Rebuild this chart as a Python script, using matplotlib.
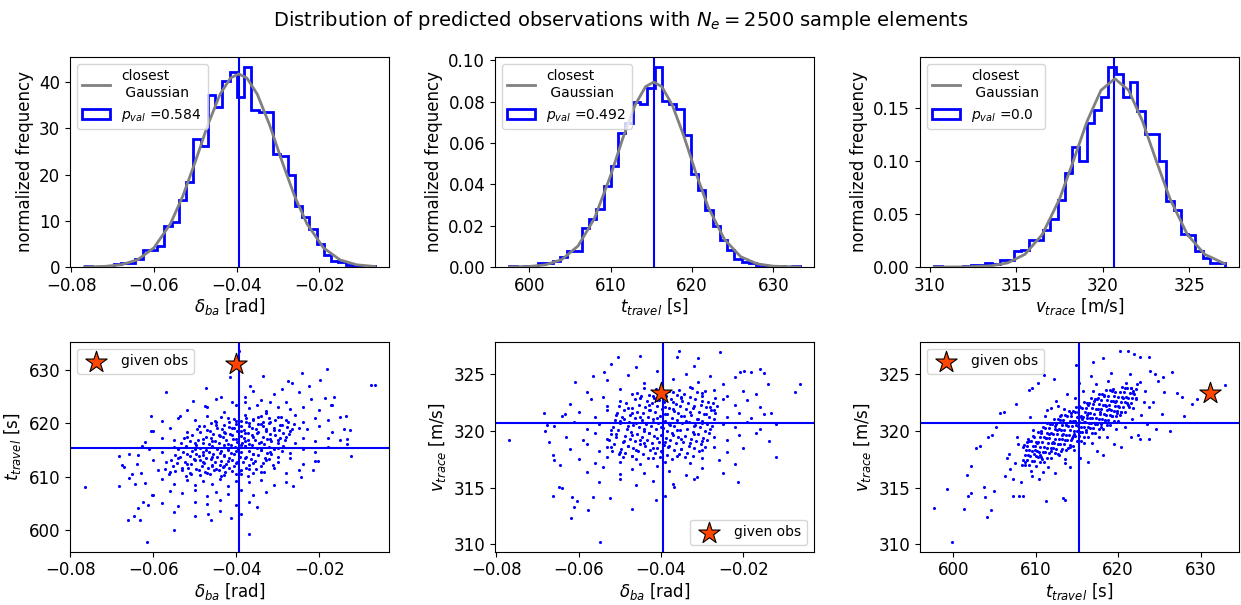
import matplotlib
matplotlib.use('Agg')
import matplotlib.pyplot as plt
import numpy as np

plt.rcParams['font.size'] = 12

title = 'Distribution of predicted observations with $N_e=2500$ sample elements'

# histogram ranges (first / last bin edge) and normalized bin heights, 40 bins each
delta_range = (-0.0768, -0.0066)
delta_hist = [0.23, 0, 0, 0.23, 0.68, 0.91, 0.91, 1.82, 3.64, 3.64,
              4.55, 8.88, 9.79, 14.6, 18.4, 27.8, 26.2, 37.3, 34.6, 40.3,
              42.3, 36.9, 43.3, 33.9, 33.5, 33.5, 24.4, 24.1, 20.0, 13.2,
              10.9, 8.2, 5.0, 2.5, 1.4, 1.1, 0.46, 0.23, 0, 0.23]

t_range = (597.55, 633.25)
t_hist = [0.00045, 0, 0.00045, 0, 0.0019, 0.0019, 0.0027, 0.0048, 0.0079, 0.0079,
          0.0187, 0.0230, 0.0280, 0.0390, 0.0487, 0.0647, 0.0696, 0.0797, 0.0790, 0.0864,
          0.0968, 0.0804, 0.0790, 0.0764, 0.0639, 0.0452, 0.0372, 0.0276, 0.0199, 0.0131,
          0.0080, 0.0040, 0.0022, 0.0019, 0.0008, 0.0007, 0.0004, 0.0004, 0, 0.00045]

v_range = (310.25, 327.05)
v_hist = [0.00095, 0, 0, 0, 0.00095, 0.0019, 0.0019, 0.0038, 0.0028, 0.0069,
          0.0069, 0.0148, 0.0157, 0.0257, 0.0257, 0.0350, 0.0450, 0.0636, 0.0890, 0.1130,
          0.1005, 0.1360, 0.1480, 0.1610, 0.1890, 0.1825, 0.1610, 0.1750, 0.1470, 0.1255,
          0.1255, 0.1000, 0.0620, 0.0540, 0.0310, 0.0300, 0.0150, 0.0085, 0.0040, 0.0040]

# closest gaussian curves
delta_gx = [-0.0768, -0.072, -0.068, -0.064, -0.060, -0.056, -0.053, -0.050, -0.047, -0.044, -0.0415,
            -0.0395, -0.0375, -0.035, -0.032, -0.029, -0.026, -0.023, -0.019, -0.015, -0.011, -0.0066]
delta_gy = [0.02, 0.13, 0.48, 1.54, 4.16, 9.37, 15.4, 22.8, 30.7, 37.4, 40.9,
            41.8, 40.9, 37.4, 30.7, 22.8, 15.4, 9.37, 4.16, 1.54, 0.48, 0.11]

t_gx = [597.55, 600, 602, 604, 606, 608, 610, 611.5, 613, 614.3, 615.3,
        616.3, 617.6, 619, 620.5, 622, 624, 626, 628, 630, 633.25]
t_gy = [0.00003, 0.00025, 0.00105, 0.00361, 0.0102, 0.0234, 0.0442, 0.0623, 0.0783, 0.0873, 0.0895,
        0.0873, 0.0783, 0.0635, 0.0454, 0.0290, 0.0134, 0.0050, 0.00155, 0.00039, 0.00003]

v_gx = [310.25, 312, 313.5, 314.5, 315.5, 316.5, 317.5, 318.3, 319.1, 319.9, 320.7,
        321.5, 322.3, 323.1, 323.9, 324.9, 325.9, 327.05]
v_gy = [0.0, 0.0001, 0.0010, 0.0039, 0.0120, 0.0307, 0.0642, 0.1003, 0.1379, 0.1670, 0.178,
        0.1670, 0.1379, 0.1003, 0.0642, 0.0307, 0.0120, 0.0032]

p_vals = ['0.584', '0.492', '0.0']

# sample means (blue lines) and the given observation (star)
delta_mean = -0.0395
t_mean = 615.3
v_mean = 320.68
obs_delta = -0.0400
obs_t = 631.2
obs_v = 323.35

# scatter samples (outer points + dense core)
delta_t_pts = [
    (-0.0766, 608.0), (-0.0682, 613.9), (-0.0676, 612.1), (-0.0672, 611.8), (-0.0682, 608.3),
    (-0.0662, 601.8), (-0.0646, 602.7), (-0.0638, 604.1), (-0.0632, 601.8), (-0.0615, 597.7),
    (-0.0607, 621.3), (-0.0607, 618.5), (-0.0636, 614.1), (-0.0628, 615.7), (-0.0660, 609.7),
    (-0.0652, 610.5), (-0.0644, 608.7), (-0.0604, 606.5), (-0.0624, 605.3), (-0.0612, 604.7),
    (-0.0570, 625.9), (-0.0550, 599.9), (-0.0535, 621.4), (-0.0504, 624.2), (-0.0476, 623.3),
    (-0.0474, 626.7), (-0.0468, 602.9), (-0.0462, 601.8), (-0.0438, 624.9), (-0.0412, 602.3),
    (-0.0416, 628.6), (-0.0394, 633.5), (-0.0370, 599.2), (-0.0368, 626.9), (-0.0336, 628.8),
    (-0.0276, 627.9), (-0.0267, 627.5), (-0.0264, 608.3), (-0.0244, 610.0), (-0.0243, 629.5),
    (-0.0226, 626.9), (-0.0216, 611.3), (-0.0203, 613.0), (-0.0198, 628.2), (-0.0182, 630.1),
    (-0.0187, 624.8), (-0.0172, 623.5), (-0.0164, 624.9), (-0.0136, 621.3), (-0.0134, 617.1),
    (-0.0134, 616.2), (-0.0126, 618.7), (-0.0124, 613.8), (-0.0075, 627.2), (-0.0067, 627.2),
    (-0.045, 624.5), (-0.038, 625.0), (-0.034, 624.3), (-0.031, 625.5), (-0.028, 624.0),
    (-0.025, 625.8), (-0.036, 626.0), (-0.041, 624.0), (-0.029, 626.5), (-0.022, 624.6),
    (-0.052, 622.5), (-0.047, 623.0), (-0.043, 622.2), (-0.040, 623.4), (-0.037, 622.8),
    (-0.035, 623.5), (-0.033, 622.3), (-0.030, 623.1), (-0.027, 622.6), (-0.024, 623.0),
    (-0.020, 622.4), (-0.017, 623.4), (-0.038, 623.9), (-0.032, 624.0),
    (-0.058, 620.4), (-0.054, 621.0), (-0.050, 620.6), (-0.047, 621.4), (-0.045, 620.2),
    (-0.042, 621.0), (-0.040, 620.5), (-0.038, 621.6), (-0.036, 620.8), (-0.034, 621.3),
    (-0.032, 620.2), (-0.030, 621.1), (-0.028, 620.7), (-0.026, 621.5), (-0.024, 620.3),
    (-0.021, 621.0), (-0.018, 620.6), (-0.015, 621.2), (-0.037, 620.1), (-0.033, 621.9),
    (-0.060, 618.6), (-0.056, 619.2), (-0.052, 618.4), (-0.049, 619.5), (-0.047, 618.8),
    (-0.045, 619.7), (-0.043, 618.3), (-0.041, 619.1), (-0.039, 618.6), (-0.037, 619.4),
    (-0.035, 618.2), (-0.033, 619.0), (-0.031, 618.7), (-0.029, 619.6), (-0.027, 618.5),
    (-0.025, 619.2), (-0.023, 618.9), (-0.020, 619.5), (-0.017, 618.4), (-0.014, 619.0),
    (-0.038, 618.1), (-0.034, 619.8),
    (-0.062, 616.5), (-0.058, 617.2), (-0.055, 616.8), (-0.052, 617.5), (-0.050, 616.3),
    (-0.048, 617.0), (-0.046, 616.6), (-0.044, 617.6), (-0.042, 616.2), (-0.040, 617.1),
    (-0.038, 616.7), (-0.036, 617.4), (-0.034, 616.4), (-0.032, 617.0), (-0.030, 616.8),
    (-0.028, 617.5), (-0.026, 616.3), (-0.024, 617.2), (-0.021, 616.6), (-0.018, 617.3),
    (-0.015, 616.9), (-0.041, 617.8), (-0.037, 616.1),
    (-0.066, 614.3), (-0.061, 615.2), (-0.058, 614.6), (-0.055, 615.5), (-0.052, 614.3),
    (-0.050, 615.1), (-0.048, 614.7), (-0.046, 615.6), (-0.044, 614.4), (-0.042, 615.3),
    (-0.040, 614.8), (-0.038, 615.7), (-0.036, 614.2), (-0.034, 615.0), (-0.032, 614.6),
    (-0.030, 615.4), (-0.027, 614.5), (-0.024, 615.2), (-0.021, 614.7), (-0.018, 615.5),
    (-0.043, 614.1), (-0.039, 615.9),
    (-0.064, 612.4), (-0.060, 613.1), (-0.057, 612.7), (-0.054, 613.5), (-0.052, 612.3),
    (-0.050, 613.2), (-0.048, 612.8), (-0.046, 613.6), (-0.044, 612.2), (-0.042, 613.0),
    (-0.040, 612.6), (-0.038, 613.4), (-0.036, 612.5), (-0.033, 613.1), (-0.030, 612.7),
    (-0.027, 613.5), (-0.024, 612.4), (-0.021, 613.0), (-0.049, 613.9), (-0.043, 612.0),
    (-0.063, 610.6), (-0.059, 611.3), (-0.056, 610.8), (-0.053, 611.6), (-0.051, 610.4),
    (-0.049, 611.2), (-0.047, 610.7), (-0.045, 611.5), (-0.043, 610.3), (-0.041, 611.0),
    (-0.039, 610.5), (-0.037, 611.4), (-0.034, 610.9), (-0.031, 611.6), (-0.028, 610.6),
    (-0.025, 611.2), (-0.046, 611.9),
    (-0.062, 608.8), (-0.058, 609.5), (-0.055, 608.6), (-0.052, 609.3), (-0.050, 608.4),
    (-0.048, 609.1), (-0.046, 608.7), (-0.044, 609.6), (-0.042, 608.3), (-0.040, 609.2),
    (-0.037, 608.9), (-0.034, 609.4), (-0.031, 608.5), (-0.028, 609.0),
    (-0.060, 606.6), (-0.056, 607.3), (-0.053, 606.9), (-0.050, 607.5), (-0.047, 606.4),
    (-0.045, 607.1), (-0.042, 606.7), (-0.039, 607.4), (-0.036, 606.5), (-0.033, 607.2),
    (-0.058, 605.0), (-0.054, 604.4), (-0.050, 605.3), (-0.047, 604.8), (-0.044, 605.6),
    (-0.040, 604.6), (-0.037, 605.2), (-0.035, 604.3),
    (-0.055, 603.3), (-0.050, 602.7), (-0.044, 603.5), (-0.039, 603.0),
    # core
    (-0.0562, 610.42), (-0.0521, 610.09), (-0.0489, 610.35), (-0.0463, 610.57), (-0.0437, 610.21),
    (-0.0402, 610.48), (-0.0371, 610.05),
    (-0.0548, 611.02), (-0.0512, 610.69), (-0.0476, 610.95), (-0.0455, 611.17), (-0.0428, 610.81),
    (-0.0394, 611.08), (-0.0361, 610.65), (-0.0333, 610.92),
    (-0.0571, 611.52), (-0.0530, 611.19), (-0.0497, 611.45), (-0.0468, 611.67), (-0.0441, 611.31),
    (-0.0419, 611.58), (-0.0389, 611.15), (-0.0352, 611.42),
    (-0.0553, 612.02), (-0.0516, 611.69), (-0.0483, 611.95), (-0.0459, 612.17), (-0.0432, 611.81),
    (-0.0407, 612.08), (-0.0378, 611.65), (-0.0341, 611.92), (-0.0312, 612.12),
    (-0.0544, 612.62), (-0.0509, 612.29), (-0.0478, 612.55), (-0.0451, 612.77), (-0.0426, 612.41),
    (-0.0398, 612.68), (-0.0369, 612.25), (-0.0337, 612.52),
    (-0.0558, 613.12), (-0.0523, 612.79), (-0.0489, 613.05), (-0.0462, 613.27), (-0.0437, 612.91),
    (-0.0411, 613.18), (-0.0385, 612.75), (-0.0356, 613.02), (-0.0322, 613.22),
    (-0.0536, 613.62), (-0.0503, 613.29), (-0.0474, 613.55), (-0.0447, 613.77), (-0.0419, 613.41),
    (-0.0392, 613.68), (-0.0364, 613.25), (-0.0331, 613.52), (-0.0299, 613.72),
    (-0.0549, 614.12), (-0.0513, 613.79), (-0.0481, 614.05), (-0.0456, 614.27), (-0.0429, 613.91),
    (-0.0405, 614.18), (-0.0378, 613.75), (-0.0349, 614.02), (-0.0318, 614.22),
    (-0.0529, 614.62), (-0.0497, 614.29), (-0.0466, 614.55), (-0.0438, 614.77), (-0.0412, 614.41),
    (-0.0388, 614.68), (-0.0359, 614.25), (-0.0327, 614.52), (-0.0291, 614.72),
    (-0.0541, 615.12), (-0.0506, 614.79), (-0.0473, 615.05), (-0.0447, 615.27), (-0.0421, 614.91),
    (-0.0396, 615.18), (-0.0369, 614.75), (-0.0341, 615.02), (-0.0309, 615.22),
    (-0.0522, 615.72), (-0.0489, 615.39), (-0.0458, 615.65), (-0.0431, 615.87), (-0.0404, 615.51),
    (-0.0379, 615.78), (-0.0351, 615.35), (-0.0322, 615.62), (-0.0288, 615.82),
    (-0.0534, 616.22), (-0.0498, 615.89), (-0.0467, 616.15), (-0.0441, 616.37), (-0.0414, 616.01),
    (-0.0387, 616.28), (-0.0362, 615.85), (-0.0333, 616.12), (-0.0301, 616.32),
    (-0.0513, 616.72), (-0.0481, 616.39), (-0.0452, 616.65), (-0.0426, 616.87), (-0.0398, 616.51),
    (-0.0373, 616.78), (-0.0345, 616.35), (-0.0316, 616.62), (-0.0283, 616.82),
    (-0.0526, 617.22), (-0.0492, 616.89), (-0.0461, 617.15), (-0.0433, 617.37), (-0.0408, 617.01),
    (-0.0381, 617.28), (-0.0355, 616.85), (-0.0326, 617.12), (-0.0294, 617.32),
    (-0.0507, 617.82), (-0.0473, 617.49), (-0.0443, 617.75), (-0.0416, 617.97), (-0.0389, 617.61),
    (-0.0363, 617.88), (-0.0336, 617.45), (-0.0307, 617.72), (-0.0273, 617.92),
    (-0.0488, 618.32), (-0.0457, 617.99), (-0.0428, 618.25), (-0.0399, 618.47), (-0.0373, 618.11),
    (-0.0347, 618.38), (-0.0319, 617.95), (-0.0287, 618.22),
    (-0.0496, 618.92), (-0.0463, 618.59), (-0.0434, 618.85), (-0.0406, 619.07), (-0.0381, 618.71),
    (-0.0354, 618.98), (-0.0328, 618.55), (-0.0298, 618.82), (-0.0266, 619.02),
    (-0.0477, 619.42), (-0.0446, 619.09), (-0.0417, 619.35), (-0.0390, 619.57), (-0.0362, 619.21),
    (-0.0337, 619.48), (-0.0309, 619.05), (-0.0279, 619.32),
    (-0.0462, 620.02), (-0.0431, 619.69), (-0.0402, 619.95), (-0.0376, 620.17), (-0.0349, 619.81),
    (-0.0322, 620.08), (-0.0294, 619.65), (-0.0262, 619.92),
    (-0.0451, 620.52), (-0.0419, 620.19), (-0.0389, 620.45), (-0.0361, 620.67), (-0.0336, 620.31),
    (-0.0308, 620.58), (-0.0277, 620.15),
    (-0.0438, 621.12), (-0.0407, 620.79), (-0.0376, 621.05), (-0.0349, 621.27), (-0.0321, 620.91),
    (-0.0293, 621.18),
]

delta_v_pts = [
    (-0.0768, 319.2), (-0.0683, 321.6), (-0.0681, 320.0), (-0.0677, 320.5), (-0.0673, 319.0),
    (-0.0662, 317.9), (-0.0660, 317.4), (-0.0662, 314.3), (-0.0648, 315.1), (-0.0640, 315.0),
    (-0.0645, 317.0), (-0.0632, 321.5), (-0.0618, 312.3), (-0.0616, 314.2), (-0.0612, 313.3),
    (-0.0608, 324.3), (-0.0604, 313.8), (-0.0576, 313.0), (-0.0564, 314.2), (-0.0549, 310.2),
    (-0.0564, 324.8), (-0.0537, 325.2), (-0.0523, 314.1), (-0.0521, 325.9), (-0.0503, 326.5),
    (-0.0469, 313.1), (-0.0450, 326.6), (-0.0412, 313.9), (-0.0390, 314.3), (-0.0367, 315.1),
    (-0.0355, 327.0), (-0.0362, 326.5), (-0.0313, 315.9), (-0.0311, 326.4), (-0.0257, 326.9),
    (-0.0212, 315.5), (-0.0208, 325.2), (-0.0198, 325.3), (-0.0160, 325.4), (-0.0150, 325.1),
    (-0.0140, 324.1), (-0.0132, 321.6), (-0.0138, 319.1), (-0.0120, 317.7), (-0.0073, 323.4),
    (-0.0063, 324.1), (-0.0121, 320.6), (-0.0169, 319.8),
    (-0.053, 324.5), (-0.048, 324.9), (-0.044, 324.2), (-0.041, 325.3), (-0.037, 324.6),
    (-0.034, 325.0), (-0.031, 324.3), (-0.028, 324.8), (-0.025, 324.1), (-0.022, 324.7),
    (-0.018, 325.2), (-0.046, 325.6), (-0.032, 325.7),
    (-0.058, 323.4), (-0.054, 323.0), (-0.050, 323.7), (-0.047, 323.2), (-0.044, 323.8),
    (-0.042, 323.1), (-0.038, 323.5), (-0.035, 323.0), (-0.033, 323.9), (-0.030, 323.3),
    (-0.027, 323.6), (-0.024, 323.1), (-0.020, 323.5), (-0.017, 323.2),
    (-0.062, 322.4), (-0.057, 322.8), (-0.053, 322.2), (-0.050, 322.6), (-0.048, 322.0),
    (-0.045, 322.9), (-0.043, 322.3), (-0.041, 322.7), (-0.039, 322.1), (-0.037, 322.5),
    (-0.035, 322.9), (-0.032, 322.2), (-0.030, 322.6), (-0.028, 322.1), (-0.025, 322.8),
    (-0.022, 322.3), (-0.019, 322.7), (-0.016, 322.1),
    (-0.064, 321.3), (-0.060, 321.7), (-0.056, 321.2), (-0.053, 321.8), (-0.051, 321.4),
    (-0.049, 321.0), (-0.047, 321.6), (-0.045, 321.2), (-0.043, 321.8), (-0.041, 321.1),
    (-0.039, 321.5), (-0.037, 321.9), (-0.035, 321.3), (-0.033, 321.7), (-0.031, 321.0),
    (-0.029, 321.5), (-0.027, 321.8), (-0.024, 321.2), (-0.021, 321.6), (-0.018, 321.1),
    (-0.015, 321.5),
    (-0.066, 320.4), (-0.061, 320.8), (-0.058, 320.2), (-0.055, 320.6), (-0.052, 320.1),
    (-0.050, 320.9), (-0.048, 320.4), (-0.046, 320.7), (-0.044, 320.2), (-0.042, 320.8),
    (-0.040, 320.3), (-0.038, 320.6), (-0.036, 320.1), (-0.034, 320.9), (-0.032, 320.4),
    (-0.030, 320.7), (-0.028, 320.2), (-0.025, 320.6), (-0.022, 320.3), (-0.019, 320.8),
    (-0.016, 320.2),
    (-0.063, 319.5), (-0.059, 319.2), (-0.056, 319.8), (-0.053, 319.3), (-0.051, 319.7),
    (-0.049, 319.1), (-0.047, 319.6), (-0.045, 319.2), (-0.043, 319.8), (-0.041, 319.4),
    (-0.039, 319.0), (-0.037, 319.6), (-0.035, 319.3), (-0.032, 319.7), (-0.030, 319.1),
    (-0.027, 319.5), (-0.024, 319.2), (-0.021, 319.6),
    (-0.062, 318.4), (-0.058, 318.8), (-0.055, 318.2), (-0.052, 318.6), (-0.050, 318.1),
    (-0.048, 318.7), (-0.046, 318.3), (-0.044, 318.9), (-0.042, 318.5), (-0.040, 318.2),
    (-0.038, 318.7), (-0.035, 318.4), (-0.033, 318.9), (-0.030, 318.3), (-0.027, 318.6),
    (-0.024, 318.1), (-0.020, 318.5),
    (-0.060, 317.5), (-0.056, 317.2), (-0.053, 317.7), (-0.050, 317.3), (-0.047, 317.8),
    (-0.045, 317.1), (-0.042, 317.6), (-0.039, 317.3), (-0.036, 317.8), (-0.033, 317.2),
    (-0.030, 317.6), (-0.026, 317.4), (-0.022, 317.1),
    (-0.058, 316.4), (-0.054, 316.8), (-0.050, 316.2), (-0.047, 316.6), (-0.044, 316.3),
    (-0.041, 316.9), (-0.038, 316.5), (-0.034, 316.1), (-0.030, 316.7), (-0.025, 316.3),
    (-0.055, 315.5), (-0.050, 315.8), (-0.046, 315.2), (-0.042, 315.6), (-0.037, 315.3),
    (-0.032, 315.8),
    # core
    (-0.0491, 317.66), (-0.0460, 317.49), (-0.0431, 317.63), (-0.0403, 317.73), (-0.0373, 317.55),
    (-0.0342, 317.69),
    (-0.0502, 317.96), (-0.0471, 317.79), (-0.0443, 317.93), (-0.0414, 318.03), (-0.0386, 317.85),
    (-0.0355, 317.99), (-0.0323, 317.78),
    (-0.0519, 318.26), (-0.0486, 318.09), (-0.0455, 318.23), (-0.0426, 318.33), (-0.0398, 318.15),
    (-0.0368, 318.29), (-0.0337, 318.08), (-0.0307, 318.21),
    (-0.0531, 318.56), (-0.0498, 318.39), (-0.0467, 318.53), (-0.0439, 318.63), (-0.0410, 318.45),
    (-0.0382, 318.59), (-0.0351, 318.38), (-0.0319, 318.51), (-0.0292, 318.60),
    (-0.0514, 318.86), (-0.0481, 318.69), (-0.0450, 318.83), (-0.0421, 318.93), (-0.0393, 318.75),
    (-0.0363, 318.89), (-0.0332, 318.68), (-0.0302, 318.81),
    (-0.0526, 319.16), (-0.0493, 318.99), (-0.0462, 319.13), (-0.0434, 319.23), (-0.0405, 319.05),
    (-0.0377, 319.19), (-0.0346, 318.98), (-0.0314, 319.11), (-0.0287, 319.20),
    (-0.0509, 319.46), (-0.0476, 319.29), (-0.0445, 319.43), (-0.0416, 319.53), (-0.0388, 319.35),
    (-0.0358, 319.49), (-0.0327, 319.28), (-0.0297, 319.41),
    (-0.0521, 319.76), (-0.0488, 319.59), (-0.0457, 319.73), (-0.0429, 319.83), (-0.0400, 319.65),
    (-0.0372, 319.79), (-0.0341, 319.58), (-0.0309, 319.71), (-0.0282, 319.80),
    (-0.0505, 320.06), (-0.0472, 319.89), (-0.0441, 320.03), (-0.0412, 320.13), (-0.0384, 319.95),
    (-0.0354, 320.09), (-0.0323, 319.88), (-0.0293, 320.01),
    (-0.0516, 320.36), (-0.0483, 320.19), (-0.0452, 320.33), (-0.0424, 320.43), (-0.0395, 320.25),
    (-0.0367, 320.39), (-0.0336, 320.18), (-0.0304, 320.31), (-0.0277, 320.40),
    (-0.0500, 320.66), (-0.0467, 320.49), (-0.0436, 320.63), (-0.0407, 320.73), (-0.0379, 320.55),
    (-0.0349, 320.69), (-0.0318, 320.48), (-0.0288, 320.61),
    (-0.0511, 320.96), (-0.0478, 320.79), (-0.0447, 320.93), (-0.0419, 321.03), (-0.0390, 320.85),
    (-0.0362, 320.99), (-0.0331, 320.78), (-0.0299, 320.91), (-0.0272, 321.00),
    (-0.0495, 321.26), (-0.0462, 321.09), (-0.0431, 321.23), (-0.0402, 321.33), (-0.0374, 321.15),
    (-0.0344, 321.29), (-0.0313, 321.08), (-0.0283, 321.21),
    (-0.0507, 321.56), (-0.0474, 321.39), (-0.0443, 321.53), (-0.0415, 321.63), (-0.0386, 321.45),
    (-0.0358, 321.59), (-0.0327, 321.38), (-0.0295, 321.51), (-0.0268, 321.60),
    (-0.0490, 321.86), (-0.0457, 321.69), (-0.0426, 321.83), (-0.0397, 321.93), (-0.0369, 321.75),
    (-0.0339, 321.89), (-0.0308, 321.68), (-0.0278, 321.81),
    (-0.0502, 322.16), (-0.0469, 321.99), (-0.0438, 322.13), (-0.0410, 322.23), (-0.0381, 322.05),
    (-0.0353, 322.19), (-0.0322, 321.98), (-0.0290, 322.11), (-0.0263, 322.20),
    (-0.0485, 322.46), (-0.0452, 322.29), (-0.0421, 322.43), (-0.0392, 322.53), (-0.0364, 322.35),
    (-0.0334, 322.49), (-0.0303, 322.28), (-0.0273, 322.41),
    (-0.0464, 322.76), (-0.0433, 322.59), (-0.0405, 322.73), (-0.0376, 322.83), (-0.0348, 322.65),
    (-0.0317, 322.79), (-0.0285, 322.58),
    (-0.0448, 323.06), (-0.0417, 322.89), (-0.0388, 323.03), (-0.0360, 323.13), (-0.0330, 322.95),
    (-0.0299, 323.09), (-0.0269, 322.88),
    (-0.0459, 323.36), (-0.0428, 323.19), (-0.0400, 323.33), (-0.0371, 323.43), (-0.0343, 323.25),
    (-0.0312, 323.39),
    (-0.0412, 323.66), (-0.0383, 323.49), (-0.0355, 323.63), (-0.0325, 323.73), (-0.0294, 323.55),
]

t_v_pts = [
    (597.7, 313.2), (599.3, 314.9), (599.9, 310.2), (601.3, 313.1), (601.7, 316.1),
    (601.8, 314.3), (602.2, 314.5), (602.2, 316.9), (602.7, 318.5), (603.2, 318.7),
    (603.7, 315.1), (603.9, 314.2), (604.1, 312.4), (604.6, 313.0), (604.2, 319.5),
    (604.7, 319.6), (604.9, 314.7), (605.7, 321.6), (606.2, 321.7), (605.2, 320.3),
    (607.3, 314.3), (608.0, 314.3), (608.4, 314.3), (607.6, 322.4), (609.2, 323.6),
    (609.5, 323.8), (610.3, 324.2), (611.2, 313.8), (611.0, 324.9), (612.2, 324.6),
    (613.3, 314.1), (613.5, 313.9), (614.9, 325.8), (616.9, 326.1), (618.2, 326.4),
    (620.2, 327.0), (621.2, 327.0), (621.9, 326.8), (622.7, 326.5), (622.7, 319.3),
    (623.8, 319.3), (623.8, 326.5), (626.5, 325.2), (626.3, 320.0), (628.0, 321.3),
    (629.0, 322.4), (629.6, 322.8), (632.9, 324.0), (627.1, 323.3), (627.7, 323.0),
    (624.5, 325.0), (625.5, 324.7),
    (606.3, 316.0), (607.5, 317.2), (606.8, 318.0), (607.9, 318.8), (606.5, 317.6),
    (607.2, 315.8), (607.7, 319.5), (606.9, 316.6),
    (608.2, 315.5), (609.4, 316.5), (608.7, 317.3), (609.8, 318.0), (608.5, 318.6),
    (609.1, 319.3), (609.7, 320.1), (608.3, 317.0), (609.6, 316.0), (608.9, 319.0),
    (609.3, 321.2), (609.9, 318.3),
    (610.4, 315.8), (611.5, 316.8), (610.8, 317.5), (611.9, 318.2), (610.2, 318.9),
    (611.3, 319.4), (610.7, 320.0), (611.7, 320.6), (611.1, 321.3), (611.8, 322.0),
    (610.5, 317.9), (611.6, 319.7), (610.9, 316.4), (611.4, 321.8),
    (612.3, 316.3), (613.5, 317.2), (612.8, 317.9), (613.9, 318.5), (612.1, 319.0),
    (613.2, 319.6), (612.6, 320.1), (613.7, 320.7), (612.9, 321.3), (613.4, 321.9),
    (612.5, 322.6), (613.8, 323.2), (613.1, 318.2), (612.4, 320.4), (613.6, 317.5),
    (612.7, 322.2),
    (614.2, 316.8), (615.4, 317.6), (614.7, 318.3), (615.8, 318.9), (614.4, 319.4),
    (615.1, 320.0), (614.9, 320.5), (615.6, 321.0), (614.3, 321.6), (615.3, 322.2),
    (614.8, 322.9), (615.7, 323.5), (615.2, 324.2), (614.6, 319.7), (615.9, 320.8),
    (614.1, 318.6), (615.5, 321.3),
    (616.3, 317.3), (617.4, 318.2), (616.8, 318.9), (617.7, 319.5), (616.1, 320.1),
    (617.2, 320.6), (616.6, 321.1), (617.8, 321.7), (616.4, 322.3), (617.5, 322.9),
    (616.9, 323.5), (617.3, 324.1), (616.7, 324.8), (617.9, 320.3), (616.2, 321.4),
    (617.1, 322.6),
    (618.2, 317.9), (619.5, 318.8), (618.7, 319.5), (619.8, 320.2), (618.4, 320.8),
    (619.2, 321.3), (618.9, 321.9), (619.6, 322.5), (618.3, 323.1), (619.4, 323.7),
    (618.8, 324.4), (619.1, 325.1), (619.9, 321.6), (618.5, 322.2),
    (620.3, 318.6), (621.5, 319.5), (620.8, 320.3), (621.7, 321.0), (620.4, 321.7),
    (621.2, 322.3), (620.6, 322.9), (621.8, 323.5), (620.9, 324.2), (621.4, 325.0),
    (620.2, 321.4), (621.6, 323.8),
    (622.4, 319.6), (623.5, 320.6), (622.8, 321.4), (623.7, 322.1), (622.2, 322.8),
    (623.3, 323.5), (622.6, 324.3), (623.9, 325.3), (623.1, 322.5),
    (624.6, 320.2), (625.3, 321.5), (624.2, 322.5), (625.6, 323.4), (624.8, 324.4),
    # core
    (608.70, 317.02), (608.45, 317.45), (608.65, 317.88), (608.78, 318.31), (608.52, 318.74),
    (609.15, 317.00), (608.90, 317.42), (609.10, 317.85), (609.23, 318.28), (608.97, 318.70),
    (609.18, 319.13),
    (609.60, 317.38), (609.35, 317.81), (609.55, 318.24), (609.68, 318.67), (609.42, 319.10),
    (609.63, 319.53),
    (610.05, 316.91), (609.80, 317.36), (610.00, 317.78), (610.13, 318.21), (609.87, 318.64),
    (610.08, 319.06), (609.77, 319.49),
    (610.50, 317.29), (610.25, 317.74), (610.45, 318.17), (610.58, 318.60), (610.32, 319.03),
    (610.53, 319.46), (610.22, 319.89),
    (610.95, 317.27), (610.70, 317.72), (610.90, 318.14), (611.03, 318.57), (610.77, 319.00),
    (610.98, 319.42), (610.67, 319.85), (610.87, 320.32),
    (611.40, 317.65), (611.15, 318.10), (611.35, 318.53), (611.48, 318.96), (611.22, 319.39),
    (611.43, 319.82), (611.12, 320.25), (611.32, 320.70),
    (611.85, 317.63), (611.60, 318.08), (611.80, 318.50), (611.93, 318.93), (611.67, 319.36),
    (611.88, 319.78), (611.57, 320.21), (611.77, 320.68),
    (612.30, 318.01), (612.05, 318.46), (612.25, 318.89), (612.38, 319.32), (612.12, 319.75),
    (612.33, 320.18), (612.02, 320.61), (612.22, 321.06),
    (612.75, 317.99), (612.50, 318.44), (612.70, 318.86), (612.83, 319.29), (612.57, 319.72),
    (612.78, 320.14), (612.47, 320.57), (612.67, 321.04),
    (613.20, 318.37), (612.95, 318.82), (613.15, 319.25), (613.28, 319.68), (613.02, 320.11),
    (613.23, 320.54), (612.92, 320.97), (613.12, 321.42),
    (613.65, 318.35), (613.40, 318.80), (613.60, 319.22), (613.73, 319.65), (613.47, 320.08),
    (613.68, 320.50), (613.37, 320.93), (613.57, 321.40),
    (614.10, 318.73), (613.85, 319.18), (614.05, 319.61), (614.18, 320.04), (613.92, 320.47),
    (614.13, 320.90), (613.82, 321.33), (614.02, 321.78),
    (614.55, 318.71), (614.30, 319.16), (614.50, 319.58), (614.63, 320.01), (614.37, 320.44),
    (614.58, 320.86), (614.27, 321.29), (614.47, 321.76),
    (615.00, 319.09), (614.75, 319.54), (614.95, 319.97), (615.08, 320.40), (614.82, 320.83),
    (615.03, 321.26), (614.72, 321.69), (614.92, 322.14),
    (615.45, 319.07), (615.20, 319.52), (615.40, 319.94), (615.53, 320.37), (615.27, 320.80),
    (615.48, 321.22), (615.17, 321.65), (615.37, 322.12),
    (615.90, 319.45), (615.65, 319.90), (615.85, 320.33), (615.98, 320.76), (615.72, 321.19),
    (615.93, 321.62), (615.62, 322.05), (615.82, 322.50),
    (616.35, 319.43), (616.10, 319.88), (616.30, 320.30), (616.43, 320.73), (616.17, 321.16),
    (616.38, 321.58), (616.07, 322.01), (616.27, 322.48),
    (616.80, 319.81), (616.55, 320.26), (616.75, 320.69), (616.88, 321.12), (616.62, 321.55),
    (616.83, 321.98), (616.52, 322.41), (616.72, 322.86),
    (617.25, 319.79), (617.00, 320.24), (617.20, 320.66), (617.33, 321.09), (617.07, 321.52),
    (617.28, 321.94), (616.97, 322.37), (617.17, 322.84),
    (617.70, 320.17), (617.45, 320.62), (617.65, 321.05), (617.78, 321.48), (617.52, 321.91),
    (617.73, 322.34), (617.42, 322.77), (617.62, 323.22),
    (618.15, 320.15), (617.90, 320.60), (618.10, 321.02), (618.23, 321.45), (617.97, 321.88),
    (618.18, 322.30), (617.87, 322.73), (618.07, 323.20),
    (618.60, 320.53), (618.35, 320.98), (618.55, 321.41), (618.68, 321.84), (618.42, 322.27),
    (618.63, 322.70), (618.32, 323.13), (618.52, 323.58),
    (619.05, 320.51), (618.80, 320.96), (619.00, 321.38), (619.13, 321.81), (618.87, 322.24),
    (619.08, 322.66), (618.77, 323.09), (618.97, 323.56),
    (619.50, 320.89), (619.25, 321.34), (619.45, 321.77), (619.58, 322.20), (619.32, 322.63),
    (619.53, 323.06), (619.22, 323.49),
    (619.95, 320.87), (619.70, 321.32), (619.90, 321.74), (620.03, 322.17), (619.77, 322.60),
    (619.98, 323.02), (619.67, 323.45),
    (620.40, 321.70), (620.15, 322.13), (620.35, 322.56), (620.48, 322.99), (620.22, 323.42),
    (620.43, 323.85),
    (620.85, 321.68), (620.60, 322.10), (620.80, 322.53), (620.93, 322.96), (620.67, 323.38),
    (620.88, 323.81),
    (621.30, 322.06), (621.05, 322.49), (621.25, 322.92), (621.38, 323.35), (621.12, 323.78),
    (621.75, 322.04), (621.50, 322.46), (621.70, 322.89), (621.83, 323.32), (621.57, 323.74),
    (622.20, 322.85), (621.95, 323.28), (622.15, 323.71), (622.28, 324.14),
]


def plot_hist(ax, rng, heights, gx, gy, mean, xlabel, p_val):
    edges = np.linspace(rng[0], rng[1], len(heights) + 1)
    centers = 0.5 * (edges[:-1] + edges[1:])
    ax.plot(gx, gy, color='gray', lw=2, label='closest\n Gaussian', zorder=3)
    ax.hist(centers, bins=edges, weights=heights, histtype='step', color='blue', lw=2,
            label='$p_{val}$ =' + p_val)
    ax.axvline(mean, color='blue', lw=1.5)
    ax.set_xlabel(xlabel, labelpad=1)
    ax.set_ylabel('normalized frequency')
    ax.legend(loc='upper left', fontsize=10)


def plot_scatter(ax, pts, xmean, ymean, ox, oy, xlabel, ylabel, legend_loc):
    xs = [p[0] for p in pts]
    ys = [p[1] for p in pts]
    ax.scatter(xs, ys, s=5, color='blue', linewidths=0)
    ax.axvline(xmean, color='blue', lw=1.5)
    ax.axhline(ymean, color='blue', lw=1.5)
    ax.scatter([ox], [oy], marker='*', s=260, color='orangered', edgecolors='black',
               linewidths=0.8, label='given obs', zorder=4)
    ax.set_xlabel(xlabel, labelpad=1)
    ax.set_ylabel(ylabel)
    ax.legend(loc=legend_loc, fontsize=10)


fig, axes = plt.subplots(2, 3, figsize=(12.41, 6.05), dpi=100)
fig.subplots_adjust(left=0.0564, right=0.9984, top=0.9058, bottom=0.088,
                    wspace=0.331, hspace=0.356)
fig.suptitle(title, fontsize=14, y=0.985)

plot_hist(axes[0, 0], delta_range, delta_hist, delta_gx, delta_gy, delta_mean,
          r'$\delta_{ba}$ [rad]', p_vals[0])
plot_hist(axes[0, 1], t_range, t_hist, t_gx, t_gy, t_mean,
          r'$t_{travel}$ [s]', p_vals[1])
plot_hist(axes[0, 2], v_range, v_hist, v_gx, v_gy, v_mean,
          r'$v_{trace}$ [m/s]', p_vals[2])

plot_scatter(axes[1, 0], delta_t_pts, delta_mean, t_mean, obs_delta, obs_t,
             r'$\delta_{ba}$ [rad]', r'$t_{travel}$ [s]', 'upper left')
plot_scatter(axes[1, 1], delta_v_pts, delta_mean, v_mean, obs_delta, obs_v,
             r'$\delta_{ba}$ [rad]', r'$v_{trace}$ [m/s]', 'lower right')
plot_scatter(axes[1, 2], t_v_pts, t_mean, v_mean, obs_t, obs_v,
             r'$t_{travel}$ [s]', r'$v_{trace}$ [m/s]', 'upper left')

fig.savefig('out.png', dpi=100)
